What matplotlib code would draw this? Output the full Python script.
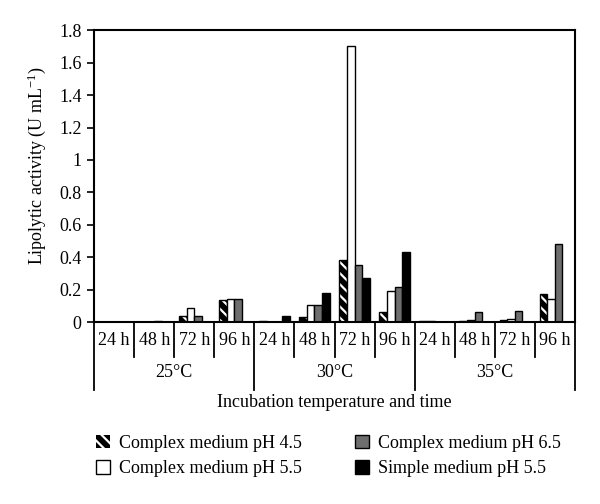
import matplotlib
matplotlib.use("Agg")
import matplotlib.pyplot as plt
import matplotlib.transforms as mtransforms
import numpy as np

plt.rcParams["font.family"] = ["Liberation Serif", "DejaVu Serif"]
plt.rcParams["mathtext.fontset"] = "custom"
plt.rcParams["mathtext.rm"] = "Liberation Serif"
plt.rcParams["mathtext.default"] = "regular"
plt.rcParams["hatch.linewidth"] = 1.6

temps = ["25°C", "30°C", "35°C"]
times = ["24 h", "48 h", "72 h", "96 h"]
series_names = [
    "Complex medium pH 4.5",
    "Complex medium pH 5.5",
    "Complex medium pH 6.5",
    "Simple medium pH 5.5",
]
# 12 groups: 25°C (24,48,72,96 h), 30°C (...), 35°C (...)
complex_ph45 = [0.003, 0.002, 0.04, 0.135, 0.008, 0.03, 0.385, 0.062, 0.004, 0.005, 0.01, 0.175]
complex_ph55 = [0.002, 0.002, 0.085, 0.14, 0.002, 0.103, 1.70, 0.19, 0.004, 0.01, 0.02, 0.14]
complex_ph65 = [0.002, 0.006, 0.04, 0.145, 0.002, 0.103, 0.35, 0.215, 0.002, 0.065, 0.068, 0.48]
simple_ph55 = [0.0, 0.0, 0.0, 0.0, 0.035, 0.178, 0.27, 0.435, 0.0, 0.0, 0.0, 0.0]

fig = plt.figure(figsize=(6, 5.04), dpi=100)
ax = fig.add_axes([0.157, 0.361, 0.801, 0.579])

x = np.arange(len(complex_ph45))
w = 0.19
offs = [-1.5 * w, -0.5 * w, 0.5 * w, 1.5 * w]

# hatched series: black fill with white strokes, then black outline
ax.bar(x + offs[0], complex_ph45, w, color="black", edgecolor="white", hatch="\\\\\\", lw=0)
ax.bar(x + offs[0], complex_ph45, w, fill=False, edgecolor="black", lw=1)
ax.bar(x + offs[1], complex_ph55, w, color="white", edgecolor="black", lw=1)
ax.bar(x + offs[2], complex_ph65, w, color="#6e6e6e", edgecolor="black", lw=1)
ax.bar(x + offs[3], simple_ph55, w, color="black", edgecolor="black", lw=1)

ax.set_xlim(-0.5, 11.5)
ax.set_ylim(0, 1.8)
ax.set_yticks(np.arange(0, 1.81, 0.2))
ax.set_yticklabels([f"{v:g}" for v in np.arange(0, 1.81, 0.2)])
ax.tick_params(axis="y", direction="out", length=5, width=1.2, labelsize=13, pad=4)
ax.set_xticks([])
for s in ax.spines.values():
    s.set_linewidth(1.5)
ax.set_ylabel("Lipolytic activity (U mL$^{-1}$)", fontsize=13)
ax.yaxis.set_label_coords(-0.097, 0.535)

trans = mtransforms.blended_transform_factory(ax.transData, ax.transAxes)
for i in range(13):
    xd = i - 0.5
    low = -0.233 if i % 4 == 0 else -0.12
    ax.plot([xd, xd], [0, low], color="black", lw=1.3, transform=trans, clip_on=False)
for i in range(12):
    ax.text(i, -0.062, times[i % 4], transform=trans, ha="center", va="center", fontsize=13)
for j, t in enumerate(temps):
    ax.text(4 * j + 1.5, -0.172, t, transform=trans, ha="center", va="center", fontsize=13)
ax.text(5.5, -0.277, "Incubation temperature and time", transform=trans,
        ha="center", va="center", fontsize=13)

handles = [
    plt.Rectangle((0, 0), 1, 1, facecolor="black", edgecolor="white", hatch="\\\\\\", lw=0),
    plt.Rectangle((0, 0), 1, 1, facecolor="white", edgecolor="black", lw=1),
    plt.Rectangle((0, 0), 1, 1, facecolor="#6e6e6e", edgecolor="black", lw=1),
    plt.Rectangle((0, 0), 1, 1, facecolor="black", edgecolor="black", lw=1),
]
fig.legend(handles, series_names, ncol=2, loc="upper left", bbox_to_anchor=(0.148, 0.152),
           frameon=False, fontsize=13, handlelength=0.8, handleheight=0.8,
           handletextpad=0.5, columnspacing=2.9, labelspacing=0.45, borderaxespad=0)

fig.savefig("out.png", dpi=100, facecolor="white")
